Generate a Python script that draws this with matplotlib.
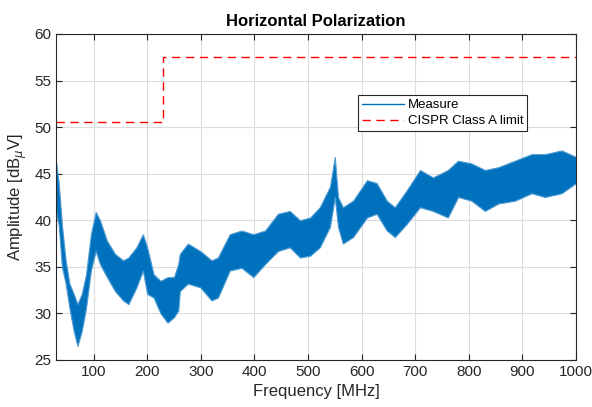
import numpy as np
import matplotlib.pyplot as plt

plt.rcParams['font.family'] = ['Liberation Sans', 'DejaVu Sans']

freq = [30, 35, 41, 48, 55, 63, 70, 78, 86, 95, 104, 112, 125, 140, 155, 165,
        180, 192, 200, 212, 225, 238, 250, 258, 261, 276, 299, 320, 332, 354,
        376, 398, 420, 444, 466, 485, 504, 522, 541, 550, 556, 565, 584, 610,
        628, 647, 662, 684, 709, 733, 761, 780, 805, 830, 855, 886, 917, 942,
        973, 1000]
upper = [46.3, 44.0, 39.5, 35.7, 33.2, 32.1, 31.0, 32.1, 34.2, 38.5, 40.9, 40.0,
         37.8, 36.4, 35.7, 36.0, 37.1, 38.5, 37.1, 34.2, 33.5, 33.9, 33.9, 35.3,
         36.4, 37.5, 36.7, 35.7, 36.0, 38.5, 38.9, 38.5, 38.9, 40.7, 41.0, 40.0,
         40.3, 41.4, 43.6, 46.8, 42.5, 41.4, 42.1, 44.3, 44.0, 42.1, 41.4, 43.2,
         45.4, 44.6, 45.4, 46.4, 46.1, 45.4, 45.7, 46.4, 47.1, 47.1, 47.5, 46.8]
lower = [41.0, 39.5, 35.0, 33.2, 30.6, 28.1, 26.5, 28.1, 30.6, 34.6, 36.7, 35.3,
         33.9, 32.4, 31.4, 31.0, 32.8, 34.6, 32.1, 31.7, 30.0, 29.0, 29.6, 30.3,
         32.4, 33.2, 32.8, 31.4, 31.7, 34.6, 34.9, 33.9, 35.3, 36.7, 37.1, 36.0,
         36.2, 37.1, 39.3, 42.5, 39.3, 37.5, 38.2, 40.3, 40.7, 38.9, 38.2, 39.6,
         41.4, 41.0, 40.3, 42.5, 42.1, 41.0, 41.8, 42.1, 42.9, 42.5, 42.9, 44.0]

# CISPR class A limit
lim_f = [30, 230, 230, 1000]
lim_db = [50.5, 50.5, 57.5, 57.5]

fig = plt.figure(figsize=(5.92, 4.07), dpi=100)
ax = fig.add_axes([0.0946, 0.1155, 0.8784, 0.801])

blue = '#0072BD'
ax.fill_between(freq, lower, upper, color=blue, edgecolor='#4d9bd3', linewidth=0.8)
ax.plot([], [], color=blue, lw=1, label='Measure')
ax.plot(lim_f, lim_db, color='r', lw=1, dashes=(6, 4), label='CISPR Class A limit')

ax.set_xlim(30, 1000)
ax.set_ylim(25, 60)
ax.set_xticks(np.arange(100, 1001, 100))
ax.set_yticks(np.arange(25, 61, 5))
ax.grid(True, color='#dcdcdc', lw=0.8)
ax.set_axisbelow(True)
ax.tick_params(direction='in', top=True, right=True, labelsize=11,
               colors='#262626', length=4)
for s in ax.spines.values():
    s.set_color('#262626')

ax.set_xlabel('Frequency [MHz]', fontsize=12, color='#262626')
ax.set_ylabel(r'Amplitude [dB$_{\mu}$V]', fontsize=12, color='#262626')
ax.set_title('Horizontal Polarization', fontsize=12, fontweight='bold')

leg = ax.legend(loc='upper left', bbox_to_anchor=(0.58, 0.813), fontsize=9.5,
                fancybox=False, framealpha=1, edgecolor='#262626',
                handlelength=3.2, borderpad=0.3, labelspacing=0.3,
                handletextpad=0.3, borderaxespad=0)
leg.get_frame().set_linewidth(0.8)

plt.savefig('out.png', dpi=100)
